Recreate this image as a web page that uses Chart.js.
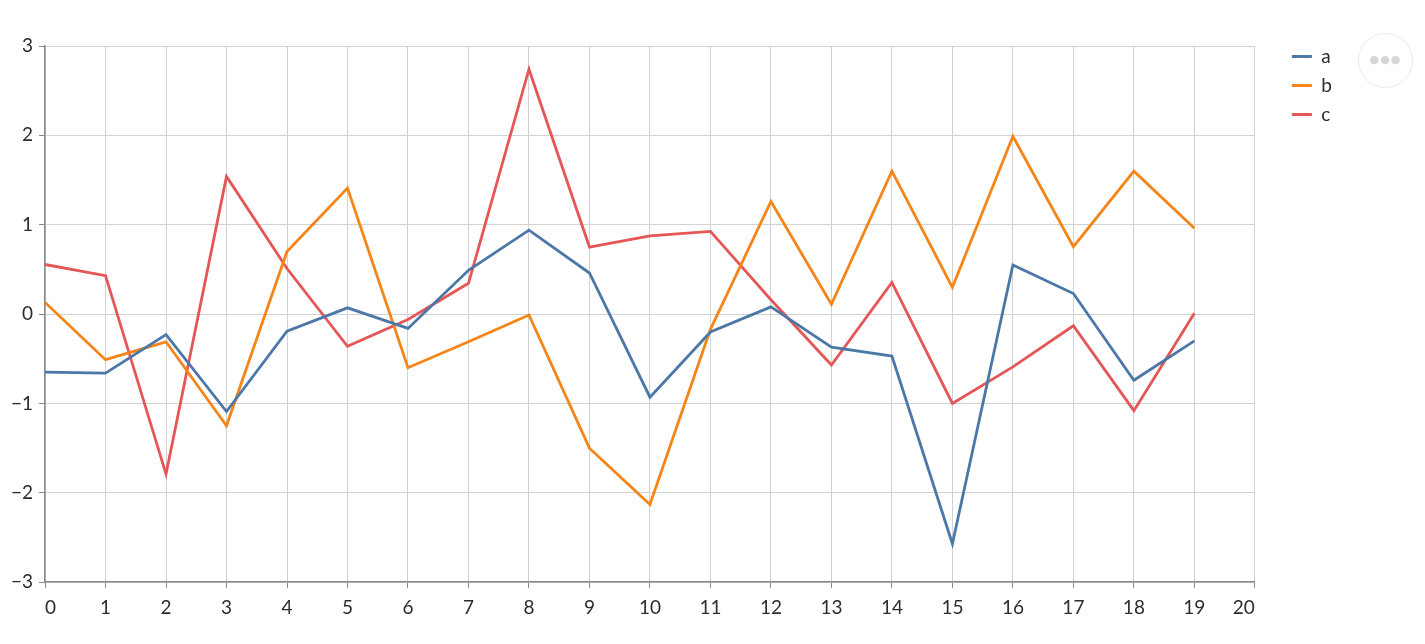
<!DOCTYPE html>
<html>
<head>
<meta charset="utf-8">
<script src="https://cdn.jsdelivr.net/npm/chart.js@4/dist/chart.umd.min.js"></script>
<style>
  html, body { margin: 0; padding: 0; background: #fff; }
  #wrap { position: absolute; left: 0; top: 0; width: 1425px; height: 644px; }
  #menu { position: absolute; left: 1358px; top: 33px; width: 55px; height: 55px; border: 1.5px solid #e8e8e8; border-radius: 50%; box-sizing: border-box; text-align: center; line-height: 51px; color: #d6d6d6; font-family: "DejaVu Sans", sans-serif; font-size: 11px; letter-spacing: 1px; }
</style>
</head>
<body>
<div id="wrap"><canvas id="c"></canvas></div>
<div id="menu">●●●</div>
<script>
const xValues = [0,1,2,3,4,5,6,7,8,9,10,11,12,13,14,15,16,17,18,19];
const seriesNames = ["a", "b", "c"];
const seriesA = [-0.65,-0.66,-0.23,-1.09,-0.19,0.07,-0.16,0.49,0.94,0.46,-0.93,-0.20,0.08,-0.37,-0.47,-2.57,0.55,0.23,-0.74,-0.30];
const seriesB = [0.13,-0.51,-0.31,-1.25,0.70,1.41,-0.60,-0.31,-0.01,-1.50,-2.13,-0.17,1.26,0.11,1.60,0.30,1.99,0.755,1.60,0.96];
const seriesC = [0.555,0.43,-1.79,1.54,0.51,-0.36,-0.06,0.345,2.74,0.75,0.875,0.925,0.16,-0.57,0.355,-1.00,-0.59,-0.13,-1.08,0.01];
const xTicks = [0,1,2,3,4,5,6,7,8,9,10,11,12,13,14,15,16,17,18,19,20];
const yTicks = [-3,-2,-1,0,1,2,3];
const colors = ["#4c78a8", "#f58518", "#e45756"];

const allSeries = [seriesA, seriesB, seriesC];
const datasets = allSeries.map((s, i) => ({
  label: seriesNames[i],
  data: s.map((v, j) => ({ x: xValues[j], y: v })),
  borderColor: colors[i],
  backgroundColor: colors[i],
  borderWidth: 2.8,
  pointRadius: 0,
  pointHoverRadius: 0,
  tension: 0,
  fill: false
}));

const fontFamily = "Lato, 'Noto Sans', sans-serif";
const tickColor = "#2b2b33";

const legendShift = {
  id: "legendShift",
  afterLayout(chart) {
    const lg = chart.legend;
    if (!lg) return;
    lg.left += 27; lg.right += 27;
    lg.top -= 9; lg.bottom -= 9;
  }
};

new Chart(document.getElementById("c"), {
  type: "line",
  data: { datasets },
  plugins: [legendShift],
  options: {
    responsive: true,
    maintainAspectRatio: false,
    animation: false,
    events: [],
    layout: { padding: { left: 5, right: 110, top: 46, bottom: 17 } },
    plugins: {
      tooltip: { enabled: false },
      legend: {
        position: "right",
        align: "start",
        labels: {
          usePointStyle: true,
          pointStyle: "line",
          pointStyleWidth: 20,
          boxHeight: 18,
          padding: 10,
          color: tickColor,
          font: { family: fontFamily, size: 19 }
        }
      }
    },
    scales: {
      x: {
        type: "linear",
        min: xTicks[0],
        max: xTicks[xTicks.length - 1],
        afterBuildTicks: (axis) => { axis.ticks = xTicks.map(v => ({ value: v })); },
        ticks: {
          align: "inner",
          color: tickColor,
          padding: 8,
          maxRotation: 0,
          autoSkip: false,
          font: { family: fontFamily, size: 19 },
          callback: (v) => String(v)
        },
        grid: { color: "#d2d2d2", lineWidth: 1, drawTicks: true, tickLength: 6, tickColor: "#888" },
        border: { display: true, color: "#888", width: 1.5 }
      },
      y: {
        type: "linear",
        min: yTicks[0],
        max: yTicks[yTicks.length - 1],
        afterBuildTicks: (axis) => { axis.ticks = yTicks.map(v => ({ value: v })); },
        ticks: {
          color: tickColor,
          padding: 6,
          autoSkip: false,
          font: { family: fontFamily, size: 19 },
          callback: (v) => String(v).replace("-", "\u2212")
        },
        grid: { color: "#d2d2d2", lineWidth: 1, drawTicks: true, tickLength: 6, tickColor: "#888" },
        border: { display: true, color: "#888", width: 1.5 }
      }
    }
  }
});
</script>
</body>
</html>
